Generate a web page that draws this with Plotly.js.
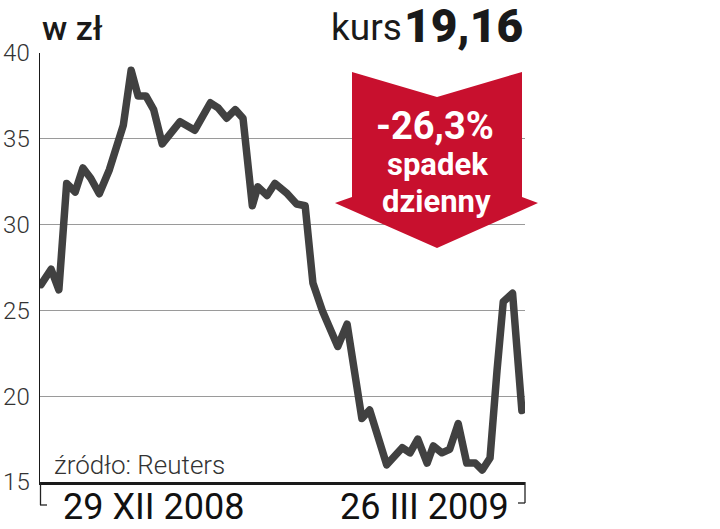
<!DOCTYPE html>
<html>
<head>
<meta charset="utf-8">
<script src="https://cdn.plot.ly/plotly-3.0.1.min.js"></script>
<style>
html,body{margin:0;padding:0;background:#fff;}
#chart{width:720px;height:529px;}
path.js-line{stroke-linejoin:round;stroke-linecap:round;}
</style>
</head>
<body>
<div id="chart"></div>
<script>
// ---- data ----
const sessions = [0.0,1.3,2.3,3.3,4.4,5.4,6.4,7.5,8.8,9.9,10.6,11.6,12.5,13.5,14.5,15.6,17.9,19.8,21.8,22.8,23.9,25.0,26.0,27.2,27.9,29.1,30.1,31.7,32.9,34.0,35.0,36.2,38.2,39.4,41.3,42.3,44.5,46.5,47.5,48.5,49.7,50.5,51.6,52.6,53.7,54.8,55.9,56.8,57.8,58.7,59.5,60.7,61.9];
const prices   = [26.5,27.4,26.2,32.4,31.9,33.3,32.7,31.8,33.2,34.6,35.8,39.0,37.5,37.5,36.7,34.7,36.0,35.5,37.1,36.8,36.2,36.7,36.2,31.1,32.2,31.7,32.4,31.8,31.2,31.1,26.6,25.0,22.9,24.2,18.7,19.2,16.0,17.0,16.7,17.5,16.1,17.1,16.7,16.9,18.4,16.1,16.1,15.7,16.4,21.5,25.5,26.0,19.16];
const yTicks = [15,20,25,30,35,40];
const dateLabels = ['29 XII 2008','26 III 2009'];
const unitLabel = 'w zł';
const lastPrice = '19,16';
const changeText = '-26,3%';
const changeWords = ['spadek','dzienny'];
const sourceText = 'źródło: Reuters';

// ---- layout helpers (pixel -> paper) ----
const W=720,H=529,L=40,R=525,T=53,B=482;
const px = x => (x-L)/(R-L);
const py = y => (B-y)/(B-T);

const trace = {
  x: sessions, y: prices, type:'scatter', mode:'lines',
  line:{color:'#414141', width:7.5},
  hoverinfo:'skip', cliponaxis:false
};

const arrowPts = [[352,72],[437,97],[522,72],[522,197],[538,203],[437,248],[335,203],[352,197]];
const arrowPath = 'M ' + arrowPts.map(p => px(p[0]).toFixed(4)+','+py(p[1]).toFixed(4)).join(' L ') + ' Z';

const font = 'Roboto, "DejaVu Sans", sans-serif';

const layout = {
  width:W, height:H,
  margin:{l:L, r:W-R, t:T, b:H-B, pad:0},
  paper_bgcolor:'#fff', plot_bgcolor:'#fff',
  showlegend:false,
  xaxis:{range:[-0.13,62.3], showgrid:false, zeroline:false, showticklabels:false, ticks:'',
         showline:true, linecolor:'#1a1a1a', linewidth:3, fixedrange:true},
  yaxis:{range:[15,40], tickvals:yTicks, ticktext:yTicks.map(String), showgrid:true, gridcolor:'#9a9a9a', gridwidth:1,
         zeroline:false, showline:true, linecolor:'#1a1a1a', linewidth:1.5, ticks:'', ticklabelstandoff:4,
         tickfont:{family:font, size:24, color:'#333', weight:300}, fixedrange:true},
  shapes:[
    {type:'path', xref:'paper', yref:'paper', path:arrowPath, fillcolor:'#c8102e', line:{width:0}, layer:'above'},
    {type:'line', xref:'paper', yref:'paper', x0:px(40.5), x1:px(40.5), y0:py(482), y1:py(505), line:{color:'#222', width:1.3}},
    {type:'line', xref:'paper', yref:'paper', x0:px(40), x1:px(47), y0:py(505), y1:py(505), line:{color:'#222', width:1.3}},
    {type:'line', xref:'paper', yref:'paper', x0:px(525), x1:px(525), y0:py(482), y1:py(503), line:{color:'#222', width:1.3}},
    {type:'line', xref:'paper', yref:'paper', x0:px(518), x1:px(525), y0:py(503), y1:py(503), line:{color:'#222', width:1.3}}
  ],
  annotations:[
    {xref:'paper', yref:'paper', x:px(40), y:py(28), xanchor:'left', yanchor:'middle', showarrow:false,
     text:unitLabel, font:{family:font, size:34, color:'#1a1a1a', weight:500}},
    {xref:'paper', yref:'paper', x:px(525), y:py(26), xanchor:'right', yanchor:'middle', showarrow:false,
     text:lastPrice, font:{family:font, size:46, color:'#1a1a1a', weight:900}},
    {xref:'paper', yref:'paper', x:px(404), y:py(27), xanchor:'right', yanchor:'middle', showarrow:false,
     text:'kurs', font:{family:font, size:37, color:'#1a1a1a', weight:400}},
    {xref:'paper', yref:'paper', x:px(435), y:py(126), xanchor:'center', yanchor:'middle', showarrow:false,
     text:changeText, font:{family:font, size:38, color:'#fff', weight:700}},
    {xref:'paper', yref:'paper', x:px(437), y:py(164), xanchor:'center', yanchor:'middle', showarrow:false,
     text:changeWords[0], font:{family:font, size:31, color:'#fff', weight:700}},
    {xref:'paper', yref:'paper', x:px(436), y:py(201), xanchor:'center', yanchor:'middle', showarrow:false,
     text:changeWords[1], font:{family:font, size:31, color:'#fff', weight:700}},
    {xref:'paper', yref:'paper', x:px(52), y:py(465), xanchor:'left', yanchor:'middle', showarrow:false,
     text:sourceText, font:{family:font, size:26, color:'#333', weight:300}},
    {xref:'paper', yref:'paper', x:px(61), y:py(507), xanchor:'left', yanchor:'middle', showarrow:false,
     text:dateLabels[0], font:{family:font, size:36, color:'#111', weight:400}},
    {xref:'paper', yref:'paper', x:px(511), y:py(507), xanchor:'right', yanchor:'middle', showarrow:false,
     text:dateLabels[1], font:{family:font, size:36, color:'#111', weight:400}}
  ]
};

Plotly.newPlot('chart', [trace], layout, {staticPlot:true, displayModeBar:false});
</script>
</body>
</html>
